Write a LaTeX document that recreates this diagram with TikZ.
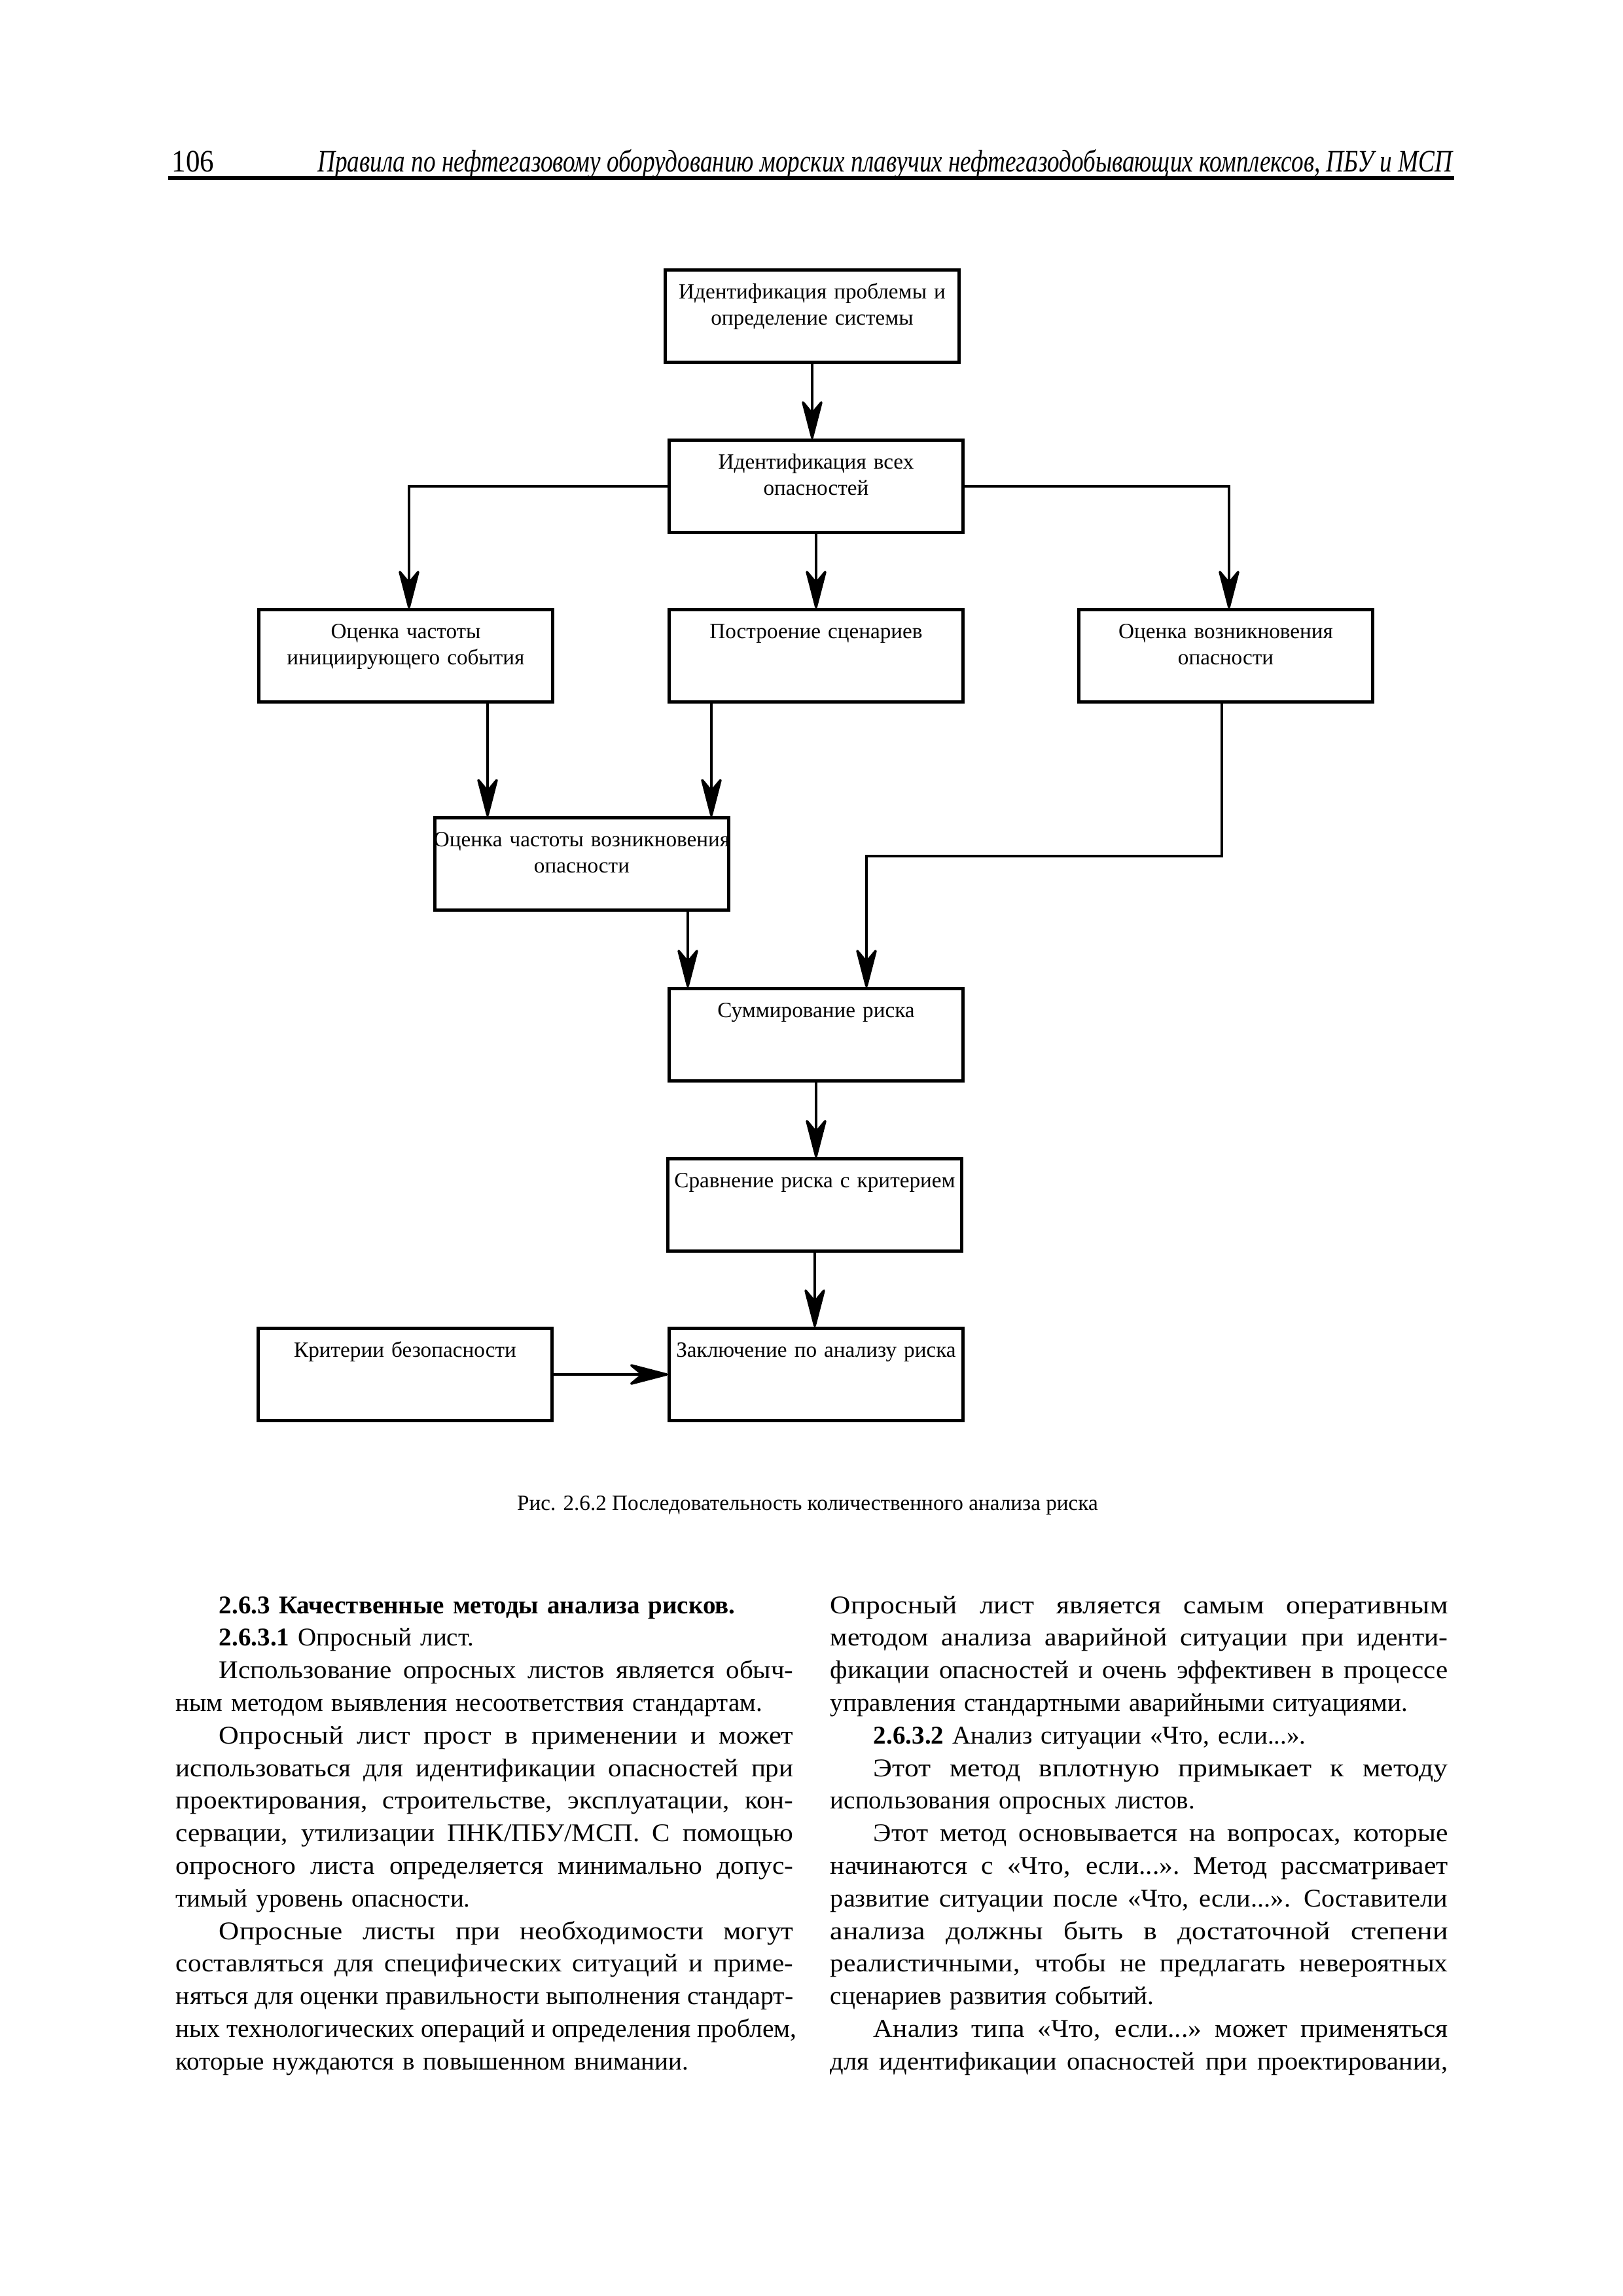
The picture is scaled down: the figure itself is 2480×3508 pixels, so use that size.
\documentclass[tikz,border=0pt]{standalone}
\usepackage{fontspec}
\usepackage{graphicx}
\setmainfont{Liberation Serif}
\newfontfamily\headfont[FakeStretch=0.78]{Liberation Serif}
\newfontfamily\numfont[FakeStretch=0.9]{Liberation Serif}
\usetikzlibrary{arrows.meta,positioning,calc}

\newlength\indw
\setlength\indw{5.6mm}
\newlength\colw
\setlength\colw{7.99cm}
\newlength\natw
\newlength\fitw
% строка по ширине: половина добора - пробелами, остальное - растяжкой
\newcommand\fitline[2]{\settowidth\natw{#2}%
  \resizebox{#1}{\height}{\hbox spread\dimexpr(#1-\natw)/2\relax{\spaceskip=0.25em plus 1fil\relax #2}}}
\newcommand\justl[1]{\leavevmode\fitline{\colw}{#1}}
\newcommand\indl[1]{\leavevmode\hspace*{\indw}\setlength\fitw{\dimexpr\colw-\indw\relax}\fitline{\fitw}{#1}}

\begin{document}
\begin{tikzpicture}[x=0.084667mm, y=-0.084667mm,
    blok/.style={draw, line width=1.1pt, minimum width=3.8cm, minimum height=1.19cm, inner sep=0pt},
    bloktxt/.style={text width=4.2cm, align=center, inner sep=0pt, font=\fontsize{8}{9.7}\selectfont},
    arr/.style={-{Stealth[length=5.8mm,width=3mm,inset=1.8mm,round]}, line width=0.9pt},
    coltxt/.style={text width=7.99cm, align=left, inner sep=0pt, anchor=base west, font=\fontsize{9.4}{12}\selectfont}]
    \useasboundingbox (0,0) rectangle (2480,3508);
    \fill[white] (0,0) rectangle (2480,3508);

    % Колонтитул
    \node[anchor=base west, inner sep=0pt, font=\numfont\fontsize{11.5}{13}\selectfont] (pagenum) at (262,262) {106};
    \node[anchor=base east, inner sep=0pt, font=\headfont\itshape\fontsize{11.5}{13}\selectfont] (runhead) at (2220,262)
        {Правила по нефтегазовому оборудованию морских плавучих нефтегазодобывающих комплексов, ПБУ и МСП};
    \draw[line width=1.6pt] (257,272) -- (2222,272);

    % Блоки
    \node[blok] (problem) at (1241,483) {};
    \node[bloktxt, below=1.45mm of problem.north] (problemtxt) {\strut Идентификация проблемы и\\определение системы};
    \node[blok] (hazards) at (1247,743) {};
    \node[bloktxt, below=1.45mm of hazards.north] (hazardstxt) {\strut Идентификация всех\\опасностей};

    \node[blok] (initfreq) at (620,1002) {};
    \node[bloktxt, below=1.45mm of initfreq.north] (initfreqtxt) {\strut Оценка частоты\\инициирующего события};
    \node[blok] (scenario) at (1247,1002) {};
    \node[bloktxt, below=1.45mm of scenario.north] (scenariotxt) {\strut Построение сценариев};
    \node[blok] (hazocc) at (1873,1002) {};
    \node[bloktxt, below=1.45mm of hazocc.north] (hazocctxt) {\strut Оценка возникновения\\опасности};

    \node[blok] (hazfreq) at (889,1320) {};
    \node[bloktxt, below=1.45mm of hazfreq.north] (hazfreqtxt) {\strut Оценка частоты возникновения\\опасности};

    \node[blok] (risksum) at (1247,1581) {};
    \node[bloktxt, below=1.45mm of risksum.north] (risksumtxt) {\strut Суммирование риска};
    \node[blok] (compare) at (1245,1841) {};
    \node[bloktxt, below=1.45mm of compare.north] (comparetxt) {\strut Сравнение риска с критерием};

    \node[blok] (criteria) at (619,2100) {};
    \node[bloktxt, below=1.45mm of criteria.north] (criteriatxt) {\strut Критерии безопасности};
    \node[blok] (conclusion) at (1247,2100) {};
    \node[bloktxt, below=1.45mm of conclusion.north] (conclusiontxt) {\strut Заключение по анализу риска};

    % Связи
    \coordinate (initout) at ($(initfreq.south)+(125,0)$);
    \coordinate (scenout) at ($(scenario.south)+(-160,0)$);
    \coordinate (freqout) at ($(hazfreq.south)+(162,0)$);
    \coordinate (occout) at ($(hazocc.south)+(-6,0)$);
    \coordinate (bend) at (1324,1308);
    \draw[arr] (problem.south) -- (problem.south |- hazards.north);
    \draw[arr] (hazards.west) -| ($(initfreq.north)+(5,0)$);
    \draw[arr] (hazards.south) -- (scenario.north);
    \draw[arr] (hazards.east) -| ($(hazocc.north)+(5,0)$);
    \draw[arr] (initout) -- (initout |- hazfreq.north);
    \draw[arr] (scenout) -- (scenout |- hazfreq.north);
    \draw[arr] (occout) |- (bend) -- (bend |- risksum.north);
    \draw[arr] (freqout) -- (freqout |- risksum.north);
    \draw[arr] (risksum.south) -- (risksum.south |- compare.north);
    \draw[arr] (compare.south) -- (compare.south |- conclusion.north);
    \draw[arr] (criteria.east) -- (conclusion.west);

    % Подпись
    \node[anchor=base, inner sep=0pt, font=\fontsize{8}{10}\selectfont] (caption) at (1234,2307)
        {Рис. 2.6.2 Последовательность количественного анализа риска};

    % Текст
    \node[coltxt] (leftcol) at (268,2465) {%
        \hspace*{\indw}\textbf{2.6.3 Качественные методы анализа рисков.}\\
        \hspace*{\indw}\textbf{2.6.3.1} Опросный лист.\\
        \indl{Использование опросных листов является обыч-}\\
        ным методом выявления несоответствия стандартам.\\
        \indl{Опросный лист прост в применении и может}\\
        \justl{использоваться для идентификации опасностей при}\\
        \justl{проектирования, строительстве, эксплуатации, кон-}\\
        \justl{сервации, утилизации ПНК/ПБУ/МСП. С помощью}\\
        \justl{опросного листа определяется минимально допус-}\\
        тимый уровень опасности.\\
        \indl{Опросные листы при необходимости могут}\\
        \justl{составляться для специфических ситуаций и приме-}\\
        \justl{няться для оценки правильности выполнения стандарт-}\\
        \justl{ных технологических операций и определения проблем,}\\
        которые нуждаются в повышенном внимании.};
    \node[coltxt] (rightcol) at (1268,2465) {%
        \justl{Опросный лист является самым оперативным}\\
        \justl{методом анализа аварийной ситуации при иденти-}\\
        \justl{фикации опасностей и очень эффективен в процессе}\\
        управления стандартными аварийными ситуациями.\\
        \hspace*{\indw}\textbf{2.6.3.2} Анализ ситуации «Что, если...».\\
        \indl{Этот метод вплотную примыкает к методу}\\
        использования опросных листов.\\
        \indl{Этот метод основывается на вопросах, которые}\\
        \justl{начинаются с «Что, если...». Метод рассматривает}\\
        \justl{развитие ситуации после «Что, если...». Составители}\\
        \justl{анализа должны быть в достаточной степени}\\
        \justl{реалистичными, чтобы не предлагать невероятных}\\
        сценариев развития событий.\\
        \indl{Анализ типа «Что, если...» может применяться}\\
        \justl{для идентификации опасностей при проектировании,}};
\end{tikzpicture}
\end{document}
